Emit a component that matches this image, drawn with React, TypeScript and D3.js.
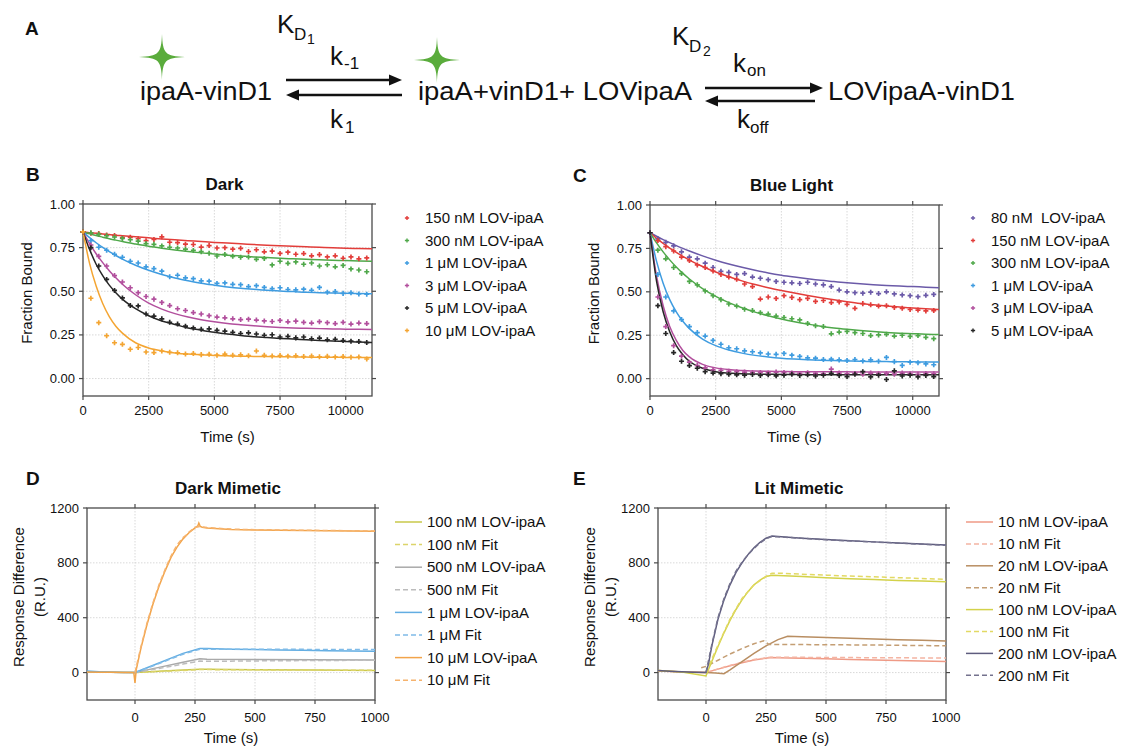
import React from 'react';
import * as d3 from 'd3';

const FONT = "'Liberation Sans', Arial, Helvetica, sans-serif";

// ---- panels B and C: fraction bound vs time ----
const sampleTimes = d3.range(0, 10801, 300);
const fitTimes = [0, 250, 500, 750, 1000, 1250, 1500, 2000, 2500, 3000, 3500, 4000, 4500, 5000, 5500, 6000, 6500, 7000, 7500, 8000, 8500, 9000, 9500, 10000, 10500, 11000];
const fracTicks = [0, 0.25, 0.5, 0.75, 1];
const timeTicks = [0, 2500, 5000, 7500, 10000];

const darkLabels = ['150 nM LOV-ipaA', '300 nM LOV-ipaA', '1 \u03bcM LOV-ipaA', '3 \u03bcM LOV-ipaA', '5 \u03bcM LOV-ipaA', '10 \u03bcM LOV-ipaA'];
const darkColors = ['#e23d3a', '#4fa84a', '#3f9ce0', '#b24f9d', '#262626', '#f4a532'];

const darkPts150 = [.840, .833, .831, .822, .820, .808, .809, .801, .790, .797, .812, .781, .779, .770, .768, .753, .762, .748, .750, .741, .746, .728, .738, .726, .730, .717, .724, .712, .716, .703, .710, .697, .703, .689, .697, .686, .691];
const darkPts300 = [.840, .835, .826, .818, .811, .803, .795, .787, .773, .769, .760, .752, .748, .741, .734, .727, .718, .702, .711, .700, .695, .697, .683, .688, .651, .672, .660, .668, .655, .662, .645, .652, .640, .648, .628, .622, .612];
const darkPts1u = [.840, .790, .752, .735, .712, .695, .672, .662, .640, .630, .615, .583, .592, .577, .572, .560, .558, .545, .548, .540, .538, .527, .532, .522, .515, .520, .510, .508, .512, .506, .522, .495, .498, .488, .492, .485, .483];
const darkPts3u = [.840, .765, .700, .645, .590, .553, .520, .492, .470, .455, .436, .418, .400, .390, .378, .370, .360, .352, .348, .342, .338, .340, .335, .330, .327, .333, .325, .329, .322, .318, .326, .320, .315, .322, .312, .318, .315];
const darkPts5u = [.840, .750, .645, .568, .505, .462, .418, .416, .370, .358, .342, .322, .312, .300, .290, .282, .285, .276, .272, .265, .258, .262, .255, .248, .251, .238, .242, .233, .238, .228, .232, .222, .225, .218, .214, .212, .206];
const darkPts10u = [.840, .460, .320, .245, .205, .196, .168, .178, .152, .149, .158, .150, .148, .140, .143, .137, .139, .134, .140, .133, .136, .131, .158, .133, .129, .132, .128, .130, .126, .129, .125, .127, .124, .126, .122, .123, .112];

const darkFit150 = [.840, .836, .832, .828, .825, .821, .818, .812, .806, .800, .795, .790, .785, .780, .776, .772, .768, .764, .761, .758, .755, .752, .750, .747, .745, .743];
const darkFit300 = [.840, .829, .819, .810, .801, .793, .785, .771, .758, .747, .737, .728, .720, .713, .707, .702, .697, .693, .689, .686, .683, .680, .678, .676, .674, .672];
const darkFit1u = [.840, .807, .778, .751, .727, .705, .684, .649, .620, .596, .576, .560, .546, .535, .525, .517, .511, .506, .501, .498, .494, .492, .490, .488, .487, .486];
const darkFit3u = [.840, .773, .715, .664, .618, .577, .540, .480, .432, .398, .372, .352, .337, .325, .315, .308, .302, .297, .293, .290, .288, .286, .284, .283, .282, .281];
const darkFit5u = [.840, .740, .655, .590, .535, .492, .455, .400, .360, .330, .310, .290, .277, .265, .255, .247, .240, .235, .230, .226, .222, .218, .215, .212, .209, .206];
const darkFit10u = [.840, .660, .530, .430, .355, .300, .260, .205, .175, .158, .147, .140, .136, .132, .130, .128, .127, .126, .125, .124, .123, .122, .122, .121, .121, .120];

const lightLabels = ['80 nM  LOV-ipaA', '150 nM LOV-ipaA', '300 nM LOV-ipaA', '1 \u03bcM LOV-ipaA', '3 \u03bcM LOV-ipaA', '5 \u03bcM LOV-ipaA'];
const lightColors = ['#6b5aa8', '#e23d3a', '#4fa84a', '#3f9ce0', '#b24f9d', '#262626'];

const lightPts80 = [.840, .805, .785, .765, .730, .700, .690, .665, .640, .618, .612, .600, .605, .585, .578, .570, .560, .555, .552, .548, .555, .545, .540, .530, .510, .500, .495, .492, .498, .490, .500, .488, .482, .478, .472, .480, .485];
const lightPts150 = [.840, .795, .760, .735, .700, .680, .655, .640, .620, .600, .585, .572, .545, .530, .458, .470, .462, .478, .468, .455, .462, .445, .450, .438, .442, .428, .405, .432, .425, .418, .420, .410, .405, .398, .395, .390, .392];
const lightPts300 = [.840, .740, .690, .640, .605, .560, .540, .505, .478, .455, .430, .418, .400, .392, .380, .372, .360, .352, .345, .338, .318, .305, .300, .258, .268, .272, .265, .260, .248, .252, .255, .245, .250, .243, .248, .238, .230];
const lightPts1u = [.840, .600, .470, .390, .340, .300, .265, .245, .220, .198, .178, .172, .160, .155, .148, .142, .140, .145, .135, .128, .120, .118, .110, .112, .108, .105, .110, .102, .108, .100, .122, .098, .076, .095, .092, .085, .080];
const lightPts3u = [.840, .470, .300, .190, .130, .095, .075, .062, .050, .048, .042, .040, .038, .035, .036, .033, .038, .035, .032, .030, .034, .030, .028, .055, .032, .028, .030, .025, .032, .028, .030, .026, .032, .028, .025, .030, .028];
const lightPts5u = [.840, .420, .260, .150, .100, .075, .060, .040, .032, .028, .025, .022, .020, .024, .018, .022, .016, .020, .025, .018, .022, .015, .020, .030, .018, .012, .025, .040, .010, .020, -.005, .045, .015, .020, .010, .018, .012];

const lightFit80 = [.840, .820, .801, .783, .766, .750, .735, .707, .682, .660, .641, .624, .609, .596, .585, .575, .566, .559, .552, .546, .541, .537, .533, .530, .527, .524];
const lightFit150 = [.840, .808, .779, .752, .727, .704, .683, .646, .614, .587, .563, .542, .524, .508, .493, .479, .466, .454, .443, .433, .425, .418, .412, .407, .402, .398];
const lightFit300 = [.840, .782, .730, .684, .643, .606, .574, .518, .474, .438, .408, .383, .362, .344, .328, .314, .302, .292, .284, .277, .271, .266, .262, .259, .256, .254];
const lightFit1u = [.840, .675, .550, .455, .385, .330, .288, .228, .190, .165, .147, .134, .125, .118, .113, .109, .106, .104, .102, .100, .099, .098, .097, .097, .096, .096];
const lightFit3u = [.840, .590, .420, .300, .220, .162, .125, .082, .062, .052, .047, .044, .042, .041, .040, .040, .039, .039, .039, .038, .038, .038, .038, .038, .038, .038];
const lightFit5u = [.840, .560, .385, .270, .190, .138, .100, .060, .040, .032, .028, .026, .025, .024, .024, .023, .023, .023, .022, .022, .022, .022, .022, .022, .022, .022];

// ---- panels D and E: SPR response (t in s, R.U.) ----
const spTimeTicks = [0, 250, 500, 750, 1000];
const respTicks = [0, 400, 800, 1200];

const dmLabels = ['100 nM LOV-ipaA', '100 nM Fit', '500 nM LOV-ipaA', '500 nM Fit', '1 \u03bcM LOV-ipaA', '1 \u03bcM Fit', '10 \u03bcM LOV-ipaA', '10 \u03bcM Fit'];
const dmColors = ['#c9c84a', '#dcd46a', '#a9a9a9', '#bcbcbc', '#62ade2', '#7fbbe8', '#f2a44a', '#f6b36e'];

const dm100 = [[-200, 5], [-100, 3], [0, 0], [100, 10], [200, 18], [270, 25], [300, 24], [500, 20], [750, 18], [1000, 15]];
const dm100Fit = [[0, 0], [100, 8], [200, 16], [270, 22], [500, 20], [750, 18], [1000, 17]];
const dm500 = [[-200, 5], [-100, 2], [0, 0], [100, 38], [200, 75], [270, 100], [300, 98], [500, 95], [750, 93], [1000, 92]];
const dm500Fit = [[0, 0], [100, 30], [200, 62], [270, 84], [300, 82], [500, 85], [750, 88], [1000, 90]];
const dm1u = [[-200, 12], [-150, 6], [-100, 3], [-50, 1], [0, 0], [50, 35], [100, 70], [150, 105], [200, 140], [270, 175], [300, 175], [400, 170], [500, 168], [600, 165], [700, 162], [800, 160], [900, 157], [1000, 155]];
const dm1uFit = [[0, 0], [50, 32], [100, 66], [150, 100], [200, 134], [270, 170], [300, 170], [500, 170], [750, 169], [1000, 168]];
const dm10u = [[-200, 5], [-150, 3], [-100, 2], [-50, 0], [-5, 0], [0, -75], [5, 20], [25, 180], [50, 350], [75, 500], [100, 630], [125, 740], [150, 840], [175, 915], [200, 975], [225, 1020], [250, 1055], [262, 1070], [266, 1090], [272, 1065], [280, 1060], [300, 1055], [350, 1048], [400, 1044], [500, 1040], [600, 1038], [700, 1036], [800, 1034], [900, 1032], [1000, 1030]];
const dm10uFit = [[0, 0], [25, 190], [50, 360], [75, 510], [100, 640], [125, 750], [150, 850], [175, 930], [200, 985], [212, 1000], [225, 1025], [250, 1058], [270, 1065], [300, 1057], [400, 1046], [500, 1042], [600, 1040], [700, 1038], [800, 1036], [900, 1034], [1000, 1032]];

const lmLabels = ['10 nM LOV-ipaA', '10 nM Fit', '20 nM LOV-ipaA', '20 nM Fit', '100 nM LOV-ipaA', '100 nM Fit', '200 nM LOV-ipaA', '200 nM Fit'];
const lmColors = ['#ef9a86', '#f4b4a2', '#b98e62', '#c49e74', '#d3d24a', '#e2d964', '#5e5c7e', '#74728e'];

const lm10 = [[-200, 12], [-100, 5], [0, 0], [50, 25], [100, 50], [150, 72], [200, 92], [270, 110], [300, 108], [400, 104], [500, 100], [600, 96], [700, 92], [800, 88], [900, 84], [1000, 80]];
const lm10Fit = [[0, 0], [50, 27], [100, 52], [150, 75], [200, 95], [270, 112], [300, 112], [500, 110], [750, 108], [1000, 106]];
const lm20 = [[-200, 15], [-100, 5], [0, 0], [40, -3], [75, -8], [100, 20], [150, 80], [200, 140], [250, 195], [300, 240], [340, 265], [400, 262], [500, 255], [600, 250], [700, 245], [800, 240], [900, 235], [1000, 230]];
const lm20Fit = [[-20, 35], [0, 45], [50, 90], [100, 135], [150, 175], [200, 210], [240, 232], [262, 205], [300, 205], [500, 203], [750, 200], [1000, 195]];
const lm100 = [[-200, 15], [-100, 5], [0, -25], [10, 20], [25, 85], [50, 190], [75, 290], [100, 380], [125, 460], [150, 530], [175, 590], [200, 640], [225, 675], [250, 700], [275, 710], [300, 708], [400, 700], [500, 692], [600, 685], [700, 678], [800, 672], [900, 667], [1000, 662]];
const lm100Fit = [[0, 0], [50, 200], [100, 390], [150, 540], [200, 640], [250, 700], [275, 725], [300, 725], [500, 710], [750, 695], [1000, 680]];
const lm200 = [[-200, 15], [-150, 10], [-100, 6], [-50, 3], [0, 0], [10, 60], [25, 200], [50, 390], [75, 530], [100, 640], [125, 730], [150, 800], [175, 860], [200, 910], [225, 950], [250, 980], [275, 995], [300, 992], [400, 980], [500, 970], [600, 962], [700, 953], [800, 945], [900, 938], [1000, 930]];
const lm200Fit = [[0, 0], [25, 210], [50, 400], [75, 540], [100, 650], [125, 740], [150, 805], [175, 860], [200, 905], [225, 945], [250, 975], [270, 990], [300, 990], [500, 968], [750, 948], [1000, 928]];

type Lin = d3.ScaleLinear<number, number>;

const Frame = ({ x, y, xTicks, yTicks, yFmt, title, letter, letterX, yTitle, xLabDy, xTitleDy }: {
  x: Lin; y: Lin; xTicks: number[]; yTicks: number[]; yFmt: (v: number) => string;
  title: string; letter: string; letterX: number; yTitle: string[]; xLabDy: number; xTitleDy: number;
}) => {
  const [x0, x1] = x.range();
  const [y0, y1] = y.range(); // y0 bottom, y1 top
  const cx = (x0 + x1) / 2;
  const cy = (y0 + y1) / 2;
  return (
    <g fontFamily={FONT}>
      {xTicks.filter(t => x(t) > x0 + 1 && x(t) < x1 - 1).map(t => (
        <line key={'gx' + t} x1={x(t)} x2={x(t)} y1={y1} y2={y0} stroke="#cfcfcf" strokeWidth={0.8} strokeDasharray="1.5,1.5" />
      ))}
      {yTicks.filter(t => y(t) < y0 - 1 && y(t) > y1 + 1).map(t => (
        <line key={'gy' + t} x1={x0} x2={x1} y1={y(t)} y2={y(t)} stroke="#cfcfcf" strokeWidth={0.8} strokeDasharray="1.5,1.5" />
      ))}
      <rect x={x0} y={y1} width={x1 - x0} height={y0 - y1} fill="none" stroke="#4a4a4a" strokeWidth={1.3} />
      {xTicks.map(t => (
        <g key={'tx' + t}>
          <line x1={x(t)} x2={x(t)} y1={y0} y2={y0 + 4} stroke="#4a4a4a" strokeWidth={1.2} />
          <line x1={x(t)} x2={x(t)} y1={y1} y2={y1 - 4} stroke="#4a4a4a" strokeWidth={1.2} />
          <text x={x(t)} y={y0 + xLabDy} textAnchor="middle" fontSize={13} fill="#111">{t}</text>
        </g>
      ))}
      {yTicks.map(t => (
        <g key={'ty' + t}>
          <line x1={x0} x2={x0 - 4} y1={y(t)} y2={y(t)} stroke="#4a4a4a" strokeWidth={1.2} />
          <line x1={x1} x2={x1 + 4} y1={y(t)} y2={y(t)} stroke="#4a4a4a" strokeWidth={1.2} />
          <text x={x0 - 8} y={y(t)} dy="0.35em" textAnchor="end" fontSize={13} fill="#111">{yFmt(t)}</text>
        </g>
      ))}
      <text x={cx} y={y0 + xTitleDy} textAnchor="middle" fontSize={15} fill="#111">Time (s)</text>
      {yTitle.map((s, i) => (
        <text key={s} transform={`translate(${x0 - 68 + i * 21 + (yTitle.length === 1 ? 12 : 0)},${cy - 7}) rotate(-90)`} textAnchor="middle" dy="0.35em" fontSize={15} fill="#111">{s}</text>
      ))}
      <text x={cx - 3} y={y1 - 14} textAnchor="middle" fontSize={17} fontWeight="bold" fill="#111">{title}</text>
      <text x={letterX} y={y1 - 23} fontSize={19} fontWeight="bold" fill="#111">{letter}</text>
    </g>
  );
};

const cross = d3.symbol(d3.symbolCross, 14)() as string;

const DecayPanel = ({ x, y, pts, fits, colors, labels, legX, title, letter, letterX }: {
  x: Lin; y: Lin; pts: number[][]; fits: number[][]; colors: string[]; labels: string[];
  legX: number; title: string; letter: string; letterX: number;
}) => {
  const line = d3.line<number>().x((_, i) => x(fitTimes[i])).y(v => y(v)).curve(d3.curveMonotoneX);
  return (
    <g>
      <Frame x={x} y={y} xTicks={timeTicks} yTicks={fracTicks} yFmt={d3.format('.2f')} title={title}
        letter={letter} letterX={letterX} yTitle={['Fraction Bound']} xLabDy={19} xTitleDy={46} />
      {fits.map((f, k) => (
        <path key={'f' + k} d={line(f) || ''} fill="none" stroke={colors[k]} strokeWidth={1.5} />
      ))}
      {pts.map((p, k) => p.map((v, i) => (
        <path key={k + '-' + i} d={cross} transform={`translate(${x(sampleTimes[i])},${y(v)})`} fill={colors[k]} />
      )))}
      {labels.map((s, i) => (
        <g key={s} fontFamily={FONT}>
          <path d={d3.symbol(d3.symbolCross, 10)() as string} transform={`translate(${legX},${218 + i * 22.5})`} fill={colors[i]} />
          <text x={legX + 18} y={218 + i * 22.5} dy="0.35em" fontSize={15} fill="#111" style={{ whiteSpace: 'pre' }}>{s}</text>
        </g>
      ))}
    </g>
  );
};

const SprPanel = ({ x, y, series, colors, labels, legX, step, title, letter, letterX }: {
  x: Lin; y: Lin; series: number[][][]; colors: string[]; labels: string[]; legX: number; step: number;
  title: string; letter: string; letterX: number;
}) => {
  const line = d3.line<number[]>().x(d => x(d[0])).y(d => y(d[1]));
  return (
    <g>
      <Frame x={x} y={y} xTicks={spTimeTicks} yTicks={respTicks} yFmt={d3.format('d')} title={title}
        letter={letter} letterX={letterX} yTitle={['Response Difference', '(R.U.)']} xLabDy={22} xTitleDy={43} />
      <g clipPath={`url(#clip${letter})`}>
        {series.map((s, k) => (
          <path key={k} d={line(s) || ''} fill="none" stroke={colors[k]} strokeWidth={1.5}
            strokeDasharray={k % 2 ? '5,3' : undefined} />
        ))}
      </g>
      <clipPath id={`clip${letter}`}>
        <rect x={x.range()[0]} y={y.range()[1]} width={x.range()[1] - x.range()[0]} height={y.range()[0] - y.range()[1]} />
      </clipPath>
      {labels.map((s, i) => (
        <g key={s} fontFamily={FONT}>
          <line x1={legX} x2={legX + 27} y1={522 + i * step} y2={522 + i * step} stroke={colors[i]} strokeWidth={1.5}
            strokeDasharray={i % 2 ? '5,3' : undefined} />
          <text x={legX + 32} y={522 + i * step} dy="0.35em" fontSize={15} fill="#111">{s}</text>
        </g>
      ))}
    </g>
  );
};

// four-point star with thin, concave arms
const star = (cx: number, cy: number, r: number) => {
  const a = 0.8, b = 3.2;
  return `M${cx},${cy - r}C${cx + a},${cy - b} ${cx + b},${cy - a} ${cx + r},${cy}` +
    `C${cx + b},${cy + a} ${cx + a},${cy + b} ${cx},${cy + r}` +
    `C${cx - a},${cy + b} ${cx - b},${cy + a} ${cx - r},${cy}` +
    `C${cx - b},${cy - a} ${cx - a},${cy - b} ${cx},${cy - r}Z`;
};

const Arrow = ({ xFrom, xTo, y }: { xFrom: number; xTo: number; y: number }) => {
  const dir = xTo > xFrom ? 1 : -1;
  const base = xTo - dir * 13;
  return (
    <g>
      <line x1={xFrom} x2={base} y1={y} y2={y} stroke="#111" strokeWidth={2.6} />
      <path d={`M${xTo},${y}L${base},${y - 5.5}L${base},${y + 5.5}Z`} fill="#111" />
    </g>
  );
};

const Scheme = () => (
  <g fontFamily={FONT} fill="#111">
    <text x={25} y={35} fontSize={19} fontWeight="bold">A</text>
    <path d={star(162, 57, 23)} fill="#5aac3c" />
    <path d={star(437, 60, 23)} fill="#5aac3c" />
    <text x={140} y={100} fontSize={26} textLength={132} lengthAdjust="spacingAndGlyphs">ipaA-vinD1</text>
    <text x={418} y={100} fontSize={26} textLength={274} lengthAdjust="spacingAndGlyphs">ipaA+vinD1+ LOVipaA</text>
    <text x={828} y={100} fontSize={26} textLength={187} lengthAdjust="spacingAndGlyphs">LOVipaA-vinD1</text>
    <text x={277} y={33} fontSize={26}>K</text>
    <text x={294} y={40} fontSize={17}>D</text>
    <text x={307} y={44} fontSize={14}>1</text>
    <text x={330} y={65} fontSize={26}>k</text>
    <text x={344} y={69} fontSize={17}>-1</text>
    <text x={330} y={128} fontSize={26}>k</text>
    <text x={345} y={133} fontSize={17}>1</text>
    <text x={672} y={45} fontSize={26}>K</text>
    <text x={689} y={52} fontSize={17}>D</text>
    <text x={703} y={56} fontSize={14}>2</text>
    <text x={733} y={72} fontSize={26}>k</text>
    <text x={747} y={76} fontSize={17}>on</text>
    <text x={737} y={128} fontSize={26}>k</text>
    <text x={750} y={133} fontSize={17}>off</text>
    <Arrow xFrom={286} xTo={402} y={80} />
    <Arrow xFrom={402} xTo={286} y={95} />
    <Arrow xFrom={705} xTo={823} y={88} />
    <Arrow xFrom={815} xTo={705} y={101} />
  </g>
);

export default function App() {
  const xB = d3.scaleLinear().domain([0, 11000]).range([83, 372]);
  const yB = d3.scaleLinear().domain([-0.1, 1.0]).range([396, 204]);
  const xC = d3.scaleLinear().domain([0, 11000]).range([650, 939]);
  const yC = d3.scaleLinear().domain([-0.1, 1.0]).range([396, 205]);
  const xD = d3.scaleLinear().domain([-200, 1000]).range([87, 375]);
  const yD = d3.scaleLinear().domain([-200, 1200]).range([700, 508]);
  const xE = d3.scaleLinear().domain([-200, 1000]).range([658, 946]);
  const yE = d3.scaleLinear().domain([-200, 1200]).range([700, 508]);

  return (
    <svg width={1124} height={747} style={{ position: 'absolute', left: 0, top: 0, background: '#fff' }}>
      <rect width={1124} height={747} fill="#fff" />
      <Scheme />
      <DecayPanel x={xB} y={yB} title="Dark" letter="B" letterX={26} legX={407}
        pts={[darkPts150, darkPts300, darkPts1u, darkPts3u, darkPts5u, darkPts10u]}
        fits={[darkFit150, darkFit300, darkFit1u, darkFit3u, darkFit5u, darkFit10u]}
        colors={darkColors} labels={darkLabels} />
      <DecayPanel x={xC} y={yC} title="Blue Light" letter="C" letterX={573} legX={973}
        pts={[lightPts80, lightPts150, lightPts300, lightPts1u, lightPts3u, lightPts5u]}
        fits={[lightFit80, lightFit150, lightFit300, lightFit1u, lightFit3u, lightFit5u]}
        colors={lightColors} labels={lightLabels} />
      <SprPanel x={xD} y={yD} title="Dark Mimetic" letter="D" letterX={26} legX={395} step={22.6}
        series={[dm100, dm100Fit, dm500, dm500Fit, dm1u, dm1uFit, dm10u, dm10uFit]}
        colors={dmColors} labels={dmLabels} />
      <SprPanel x={xE} y={yE} title="Lit Mimetic" letter="E" letterX={573} legX={966} step={21.9}
        series={[lm10, lm10Fit, lm20, lm20Fit, lm100, lm100Fit, lm200, lm200Fit]}
        colors={lmColors} labels={lmLabels} />
    </svg>
  );
}
